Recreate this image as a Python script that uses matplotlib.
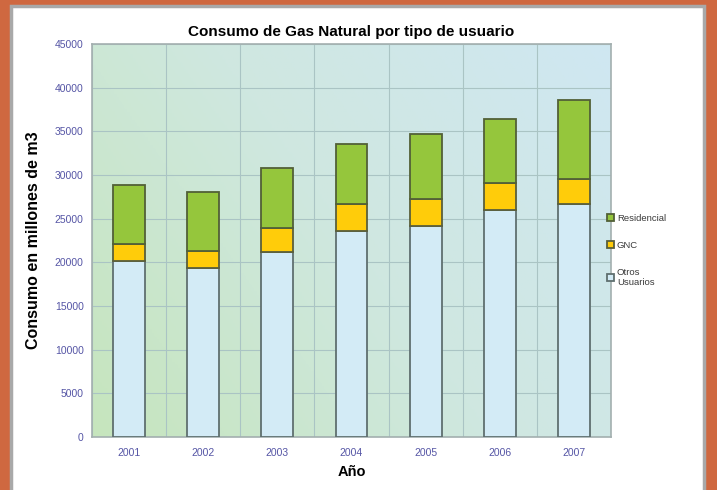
import numpy as np
import matplotlib
matplotlib.use("Agg")
import matplotlib.pyplot as plt
from matplotlib.patches import Rectangle
from matplotlib.colors import LinearSegmentedColormap

plt.rcParams['font.family'] = ['Liberation Sans', 'DejaVu Sans']

years = ['2001', '2002', '2003', '2004', '2005', '2006', '2007']
otros = [20150, 19300, 21200, 23600, 24150, 26000, 26700]
gnc = [1950, 2000, 2750, 3050, 3150, 3050, 2850]
residencial = [6700, 6700, 6900, 6900, 7450, 7350, 9050]

fig = plt.figure(figsize=(7.17, 4.9), dpi=100, facecolor='#cf6840')

# white panel with gray frame
fig.patches.append(Rectangle((11 / 717, -0.05), 693 / 717, 1.05 - 6 / 490,
                             transform=fig.transFigure, facecolor='white',
                             edgecolor='#a9a9a9', linewidth=2.5, zorder=-1))

ax = fig.add_axes([92 / 717, 1 - 437 / 490, 519 / 717, 393 / 490])
ax.set_zorder(2)

# gradient background, green bottom-left to light blue top-right
cmap = LinearSegmentedColormap.from_list('bg', ['#c6e5bd', '#cfe8e0', '#cfe7f2'])
gx, gy = np.meshgrid(np.linspace(0, 1, 200), np.linspace(0, 1, 200))
ax.imshow(0.65 * gx + 0.35 * gy, cmap=cmap, extent=[0, 1, 0, 1], origin='lower',
          transform=ax.transAxes, aspect='auto', zorder=0)

x = np.arange(len(years))
w = 0.43
b1 = ax.bar(x, otros, w, color='#d3ebf6', edgecolor='#5f6f6f', linewidth=1.3,
            zorder=3, label='Otros\nUsuarios')
b2 = ax.bar(x, gnc, w, bottom=otros, color='#ffcc0a', edgecolor='#5a5f3a',
            linewidth=1.3, zorder=3, label='GNC')
base = np.array(otros) + np.array(gnc)
b3 = ax.bar(x, residencial, w, bottom=base, color='#95c63c', edgecolor='#526037',
            linewidth=1.3, zorder=3, label='Residencial')

ax.set_xlim(-0.5, len(years) - 0.5)
ax.set_ylim(0, 45000)
ax.set_yticks(np.arange(0, 45001, 5000))
ax.set_xticks(x)
ax.set_xticklabels(years)
ax.set_xticks(np.arange(-0.5, len(years), 1), minor=True)
ax.grid(True, which='major', axis='y', color='#aac4c4', linewidth=0.8, zorder=1)
ax.grid(True, which='minor', axis='x', color='#aac4c4', linewidth=0.8, zorder=1)
ax.tick_params(axis='both', which='both', length=0, labelsize=7.5, labelcolor='#5555a5')
ax.tick_params(axis='x', pad=8)
ax.tick_params(axis='y', pad=6)
for s in ax.spines.values():
    s.set_color('#a3afaf')
    s.set_linewidth(1.2)

ax.set_title('Consumo de Gas Natural por tipo de usuario', fontsize=11,
             fontweight='bold', pad=6)
ax.set_ylabel('Consumo en millones de m3', fontsize=11.5, fontweight='bold', labelpad=10)
ax.set_xlabel('Año', fontsize=10.5, fontweight='bold', labelpad=5)

ax.legend(handles=[b3, b2, b1], loc='center left', bbox_to_anchor=(0.975, 0.475),
          frameon=False, fontsize=6.8, handlelength=0.8, handleheight=0.8,
          handletextpad=0.3, labelspacing=1.9, labelcolor='#3a3a3a')

fig.savefig('out.png', dpi=100, facecolor=fig.get_facecolor())
